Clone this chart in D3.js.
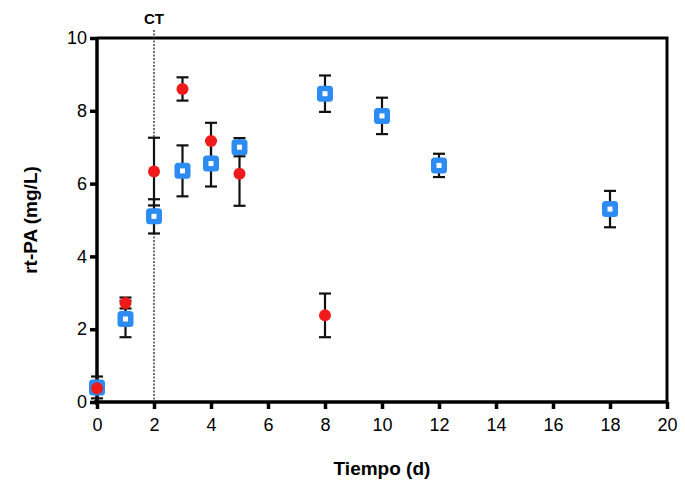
<!DOCTYPE html>
<html>
<head>
<meta charset="utf-8">
<script src="https://cdn.jsdelivr.net/npm/d3@7"></script>
<style>
  body { margin: 0; background: #fff; }
  text { font-family: "Liberation Sans", Arial, sans-serif; }
</style>
</head>
<body>
<div class="chart"></div>
<script>
var margin = { top: 38, right: 18, bottom: 81, left: 97 };
var width = 685 - margin.left - margin.right;
var height = 483 - margin.top - margin.bottom;

// blue squares
var blueDays = [0, 1, 2, 3, 4, 5, 8, 10, 12, 18];
var blueVals = [0.4, 2.28, 5.1, 6.35, 6.55, 7.0, 8.47, 7.86, 6.5, 5.3];
var blueErr = [0.3, 0.5, 0.47, 0.7, 0.63, 0.25, 0.5, 0.5, 0.32, 0.5];

// red circles
var redDays = [0, 1, 2, 3, 4, 5, 8];
var redVals = [0.38, 2.72, 6.33, 8.6, 7.17, 6.27, 2.38];
var redErr = [0.1, 0.15, 0.93, 0.32, 0.5, 0.88, 0.6];

var xTicks = [0, 2, 4, 6, 8, 10, 12, 14, 16, 18, 20];
var yTicks = [0, 2, 4, 6, 8, 10];
var ctDay = 2;

var blue = blueDays.map((d, i) => ({ x: d, y: blueVals[i], e: blueErr[i] }));
var red = redDays.map((d, i) => ({ x: d, y: redVals[i], e: redErr[i] }));

var svg = d3.select('.chart')
    .append('svg')
    .attr('width', width + margin.left + margin.right)
    .attr('height', height + margin.top + margin.bottom)
    .append('g')
    .attr('transform', `translate(${margin.left}, ${margin.top})`)

var xScale = d3.scaleLinear().domain([0, 20]).range([0, width])
var yScale = d3.scaleLinear().domain([0, 10]).range([height, 0])

// frame (top + right)
svg.append('path')
    .attr('d', `M0,0H${width}V${height}`)
    .attr('fill', 'none')
    .attr('stroke', '#000')
    .attr('stroke-width', 3)

var xAxis = d3.axisBottom(xScale).tickValues(xTicks).tickSize(7).tickPadding(9)
var gx = svg.append('g')
    .attr('transform', 'translate(0,' + height + ')')
    .call(xAxis)
var yAxis = d3.axisLeft(yScale).tickValues(yTicks).tickSize(7).tickPadding(3)
var gy = svg.append('g').call(yAxis)

;[gx, gy].forEach(g => {
    g.select('.domain').attr('stroke-width', 3.5).attr('d', null)
    g.selectAll('.tick line').attr('stroke-width', 3.5)
    g.selectAll('.tick text').attr('font-size', 18).attr('fill', '#000')
        .style('font-family', '"Liberation Sans", Arial, sans-serif')
})
gx.select('.domain').attr('d', `M-3,0H${width}`)
gy.select('.domain').attr('d', `M0,${height + 3}V0`)

// CT marker
svg.append('line')
    .attr('x1', xScale(ctDay)).attr('x2', xScale(ctDay))
    .attr('y1', -8).attr('y2', height)
    .attr('stroke', '#222').attr('stroke-width', 1.3)
    .attr('stroke-dasharray', '2,1.5')
svg.append('text')
    .attr('x', xScale(ctDay)).attr('y', -14)
    .attr('text-anchor', 'middle')
    .attr('font-size', 15).attr('font-weight', 'bold')
    .text('CT')

function errorBars(data) {
    var g = svg.append('g').attr('stroke', '#111').attr('stroke-width', 2.2)
    g.selectAll('.v').data(data).enter().append('line')
        .attr('x1', d => xScale(d.x)).attr('x2', d => xScale(d.x))
        .attr('y1', d => yScale(d.y - d.e)).attr('y2', d => yScale(d.y + d.e))
    g.selectAll('.t').data(data).enter().append('line')
        .attr('x1', d => xScale(d.x) - 6).attr('x2', d => xScale(d.x) + 6)
        .attr('y1', d => yScale(d.y + d.e)).attr('y2', d => yScale(d.y + d.e))
    g.selectAll('.b').data(data).enter().append('line')
        .attr('x1', d => xScale(d.x) - 6).attr('x2', d => xScale(d.x) + 6)
        .attr('y1', d => yScale(d.y - d.e)).attr('y2', d => yScale(d.y - d.e))
}

errorBars(blue)
errorBars(red)

svg.selectAll('.sq').data(blue).enter().append('rect')
    .attr('x', d => xScale(d.x) - 8)
    .attr('y', d => yScale(d.y) - 8)
    .attr('width', 16).attr('height', 16)
    .attr('rx', 3.5)
    .attr('fill', '#2d8cf4')
svg.selectAll('.sqi').data(blue).enter().append('rect')
    .attr('x', d => xScale(d.x) - 2.5)
    .attr('y', d => yScale(d.y) - 2.5)
    .attr('width', 5).attr('height', 5)
    .attr('fill', '#fff')

svg.selectAll('.dot').data(red).enter().append('circle')
    .attr('cx', d => xScale(d.x))
    .attr('cy', d => yScale(d.y))
    .attr('r', 6)
    .attr('fill', '#f01a1a')

// axis titles
svg.append('text')
    .attr('x', width / 2).attr('y', height + 73)
    .attr('text-anchor', 'middle')
    .attr('font-size', 19).attr('font-weight', 'bold')
    .text('Tiempo (d)')
svg.append('text')
    .attr('transform', `translate(-60, ${height / 2}) rotate(-90)`)
    .attr('text-anchor', 'middle')
    .attr('font-size', 19).attr('font-weight', 'bold')
    .text('rt-PA (mg/L)')
</script>
</body>
</html>
